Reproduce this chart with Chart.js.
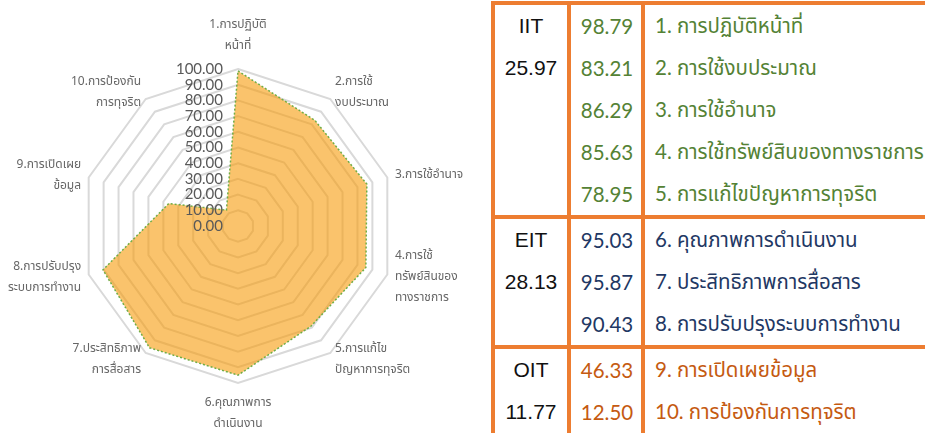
<!DOCTYPE html>
<html>
<head>
<meta charset="utf-8">
<script src="https://cdn.jsdelivr.net/npm/chart.js@4/dist/chart.umd.min.js"></script>
<style>
  html, body { margin: 0; padding: 0; background: #ffffff; }
  body { width: 925px; height: 434px; position: relative; overflow: hidden; }
  #chartBox { position: absolute; left: 0; top: 0; width: 480px; height: 434px; }
  #tbl { position: absolute; left: 491px; top: 1px; width: 480px; border-collapse: collapse; table-layout: fixed;
         font-family: Lato, "Noto Sans Thai", "Noto Sans", sans-serif; font-size: 20.5px; }
  #tbl td { padding: 0; height: 42px; white-space: nowrap; border-left: 4px solid #ed7d31; overflow: visible; }
  #tbl tr.gtop td { border-top: 4px solid #ed7d31; }
  #tbl td.c1 { text-align: center; color: #111; font-family: "Liberation Sans", Arial, sans-serif; font-size: 21px; }
  #tbl td.c2 { text-align: center; padding-left: 2px; }
  #tbl td.c3 { text-align: left; padding-left: 10px; }
</style>
</head>
<body>
<div id="chartBox"><canvas id="c" width="480" height="434"></canvas></div>
<table id="tbl"><colgroup><col style="width:76px"><col style="width:74px"><col style="width:330px"></colgroup></table>
<script>
// ---- data ----
const chartLabels = [
  ["1.การปฏิบัติ", "หน้าที่"],
  ["2.การใช้", "งบประมาณ"],
  ["3.การใช้อำนาจ"],
  ["4.การใช้", "ทรัพย์สินของ", "ทางราชการ"],
  ["5.การแก้ไข", "ปัญหาการทุจริต"],
  ["6.คุณภาพการ", "ดำเนินงาน"],
  ["7.ประสิทธิภาพ", "การสื่อสาร"],
  ["8.การปรับปรุง", "ระบบการทำงาน"],
  ["9.การเปิดเผย", "ข้อมูล"],
  ["10.การป้องกัน", "การทุจริต"]
];
const tableLabels = [
  "1. การปฏิบัติหน้าที่",
  "2. การใช้งบประมาณ",
  "3. การใช้อำนาจ",
  "4. การใช้ทรัพย์สินของทางราชการ",
  "5. การแก้ไขปัญหาการทุจริต",
  "6. คุณภาพการดำเนินงาน",
  "7. ประสิทธิภาพการสื่อสาร",
  "8. การปรับปรุงระบบการทำงาน",
  "9. การเปิดเผยข้อมูล",
  "10. การป้องกันการทุจริต"
];
const scores = [98.79, 83.21, 86.29, 85.63, 78.95, 95.03, 95.87, 90.43, 46.33, 12.50];
const groupNames = ["IIT", "EIT", "OIT"];
const groupScores = [25.97, 28.13, 11.77];
const groupSizes = [5, 3, 2];
const groupColors = ["#548235", "#1f3864", "#c55a11"];
const tickValues = [0, 10, 20, 30, 40, 50, 60, 70, 80, 90, 100];

// ---- table ----
(function buildTable() {
  const tbl = document.getElementById('tbl');
  let idx = 0;
  groupNames.forEach((g, gi) => {
    for (let k = 0; k < groupSizes[gi]; k++) {
      const tr = document.createElement('tr');
      if (k === 0) tr.className = 'gtop';
      const c1 = document.createElement('td'); c1.className = 'c1';
      c1.textContent = k === 0 ? g : (k === 1 ? groupScores[gi].toFixed(2) : '');
      const c2 = document.createElement('td'); c2.className = 'c2';
      c2.textContent = scores[idx].toFixed(2); c2.style.color = groupColors[gi];
      const c3 = document.createElement('td'); c3.className = 'c3';
      c3.textContent = tableLabels[idx]; c3.style.color = groupColors[gi];
      tr.appendChild(c1); tr.appendChild(c2); tr.appendChild(c3);
      tbl.appendChild(tr);
      idx++;
    }
  });
})();

// ---- chart ----
const labelPlugin = {
  id: 'customLabels',
  afterDatasetsDraw(chart) {
    const s = chart.scales.r;
    const ctx = chart.ctx;
    ctx.save();
    // tick labels
    ctx.font = '15px Lato, "Liberation Sans", sans-serif';
    ctx.fillStyle = '#595959';
    ctx.textAlign = 'right';
    ctx.textBaseline = 'middle';
    tickValues.forEach(v => {
      const d = s.getDistanceFromCenterForValue(v);
      ctx.fillText(v.toFixed(2), s.xCenter - 15, s.yCenter - d);
    });
    // point labels
    ctx.font = '12px Tahoma, "Noto Sans Thai", "Leelawadee UI", sans-serif';
    ctx.fillStyle = '#666666';
    const lh = 21;
    chartLabels.forEach((lines, i) => {
      const p = s.getPointPosition(i, s.drawingArea + 8);
      const ang = (i * 360 / chartLabels.length);
      const sn = Math.sin(ang * Math.PI / 180), cs = Math.cos(ang * Math.PI / 180);
      let align = 'center';
      if (sn > 0.05) align = 'left'; else if (sn < -0.05) align = 'right';
      const h = lines.length * lh;
      let top;
      if (cs > 0.99) top = p.y - h - 4;
      else if (cs < -0.99) top = p.y + 2;
      else top = p.y - h / 2 + 1;
      ctx.textAlign = align;
      lines.forEach((ln, j) => ctx.fillText(ln, p.x, top + lh * j + lh / 2));
    });
    ctx.restore();
  }
};

new Chart(document.getElementById('c'), {
  type: 'radar',
  data: {
    labels: chartLabels,
    datasets: [{
      data: scores,
      fill: true,
      backgroundColor: 'rgba(247,155,10,0.6)',
      borderColor: '#70ad47',
      borderWidth: 1.5,
      borderDash: [2, 2],
      pointRadius: 0,
      pointHoverRadius: 0,
      tension: 0
    }]
  },
  options: {
    responsive: false,
    animation: false,
    devicePixelRatio: 1,
    layout: { padding: { left: 81, top: 69, right: 85, bottom: 51 } },
    plugins: { legend: { display: false }, tooltip: { enabled: false } },
    scales: {
      r: {
        min: 0, max: 100,
        ticks: { stepSize: 10, display: false },
        grid: { color: '#d9d9d9', lineWidth: 2 },
        angleLines: { display: false },
        pointLabels: { display: false }
      }
    }
  },
  plugins: [labelPlugin]
});
</script>
</body>
</html>
